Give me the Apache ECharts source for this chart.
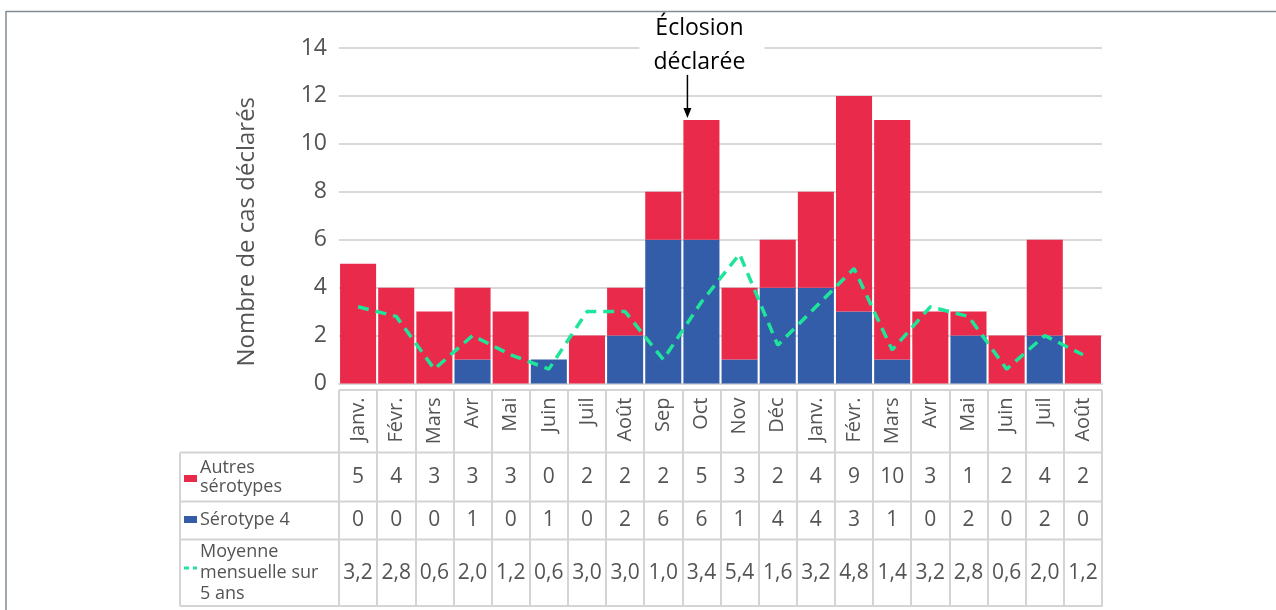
<!DOCTYPE html>
<html>
<head>
<meta charset="utf-8">
<script src="https://cdn.jsdelivr.net/npm/echarts@6/dist/echarts.min.js"></script>
<style>
  html, body { margin: 0; padding: 0; background: #fff; }
  #chart { width: 1276px; height: 610px; }
</style>
</head>
<body>
<div id="chart"></div>
<script>
// mois (deux années consécutives)
const months = ['Janv.', 'Févr.', 'Mars', 'Avr', 'Mai', 'Juin', 'Juil', 'Août', 'Sep', 'Oct',
  'Nov', 'Déc', 'Janv.', 'Févr.', 'Mars', 'Avr', 'Mai', 'Juin', 'Juil', 'Août']
const autres = [5, 4, 3, 3, 3, 0, 2, 2, 2, 5, 3, 2, 4, 9, 10, 3, 1, 2, 4, 2]
const serotype4 = [0, 0, 0, 1, 0, 1, 0, 2, 6, 6, 1, 4, 4, 3, 1, 0, 2, 0, 2, 0]
const moyenne = [3.2, 2.8, 0.6, 2.0, 1.2, 0.6, 3.0, 3.0, 1.0, 3.4, 5.4, 1.6, 3.2, 4.8, 1.4, 3.2, 2.8, 0.6, 2.0, 1.2]
const yTicks = { min: 0, max: 14, interval: 2 }
const outbreakIndex = 9 // Oct

const RED = '#EA2A4A'
const BLUE = '#335CA9'
const GREEN = '#1FE59B'
const TEXT = '#545454'
const LINE = '#D4D4D4'
const FONT = "'Open Sans', 'Noto Sans', sans-serif"

const GRID = { left: 339, right: 174, top: 48, bottom: 226.5 }
const X0 = GRID.left
const X1 = 1276 - GRID.right
const AXIS_Y = 610 - GRID.bottom

function fmtDec(v) {
  return v.toFixed(1).replace('.', ',')
}

// une rangée du tableau = un axe catégoriel supplémentaire, libellés centrés dans la rangée
function rowAxis(values, centerY) {
  return {
    type: 'category',
    gridIndex: 0,
    position: 'bottom',
    offset: centerY - AXIS_Y,
    data: values,
    axisLine: { show: false },
    axisTick: { show: false },
    splitLine: { show: false },
    axisLabel: {
      interval: 0,
      margin: 0,
      verticalAlign: 'middle',
      fontFamily: FONT,
      fontSize: 21,
      color: TEXT
    }
  }
}

function hLine(x1, x2, y) {
  return {
    type: 'line',
    silent: true,
    shape: { x1, y1: y, x2, y2: y },
    style: { stroke: LINE, lineWidth: 2 }
  }
}

function label(x, y, text, lh) {
  return {
    type: 'text',
    silent: true,
    x,
    y,
    style: {
      text,
      fill: TEXT,
      fontFamily: FONT,
      fontSize: 18,
      lineHeight: lh,
      align: 'left',
      verticalAlign: 'middle'
    }
  }
}

const chart = echarts.init(document.getElementById('chart'), null, { renderer: 'canvas' })

const option = {
  animation: false,
  grid: Object.assign({ containLabel: false, outerBoundsMode: 'none' }, GRID),
  xAxis: [
    {
      type: 'category',
      data: months,
      axisLine: { lineStyle: { color: '#D9D9D9', width: 2 } },
      axisTick: { show: false },
      axisLabel: {
        interval: 0,
        rotate: 90,
        margin: 14,
        fontFamily: FONT,
        fontSize: 20,
        color: TEXT
      }
    },
    rowAxis(autres.map(String), 477),
    rowAxis(serotype4.map(String), 520),
    rowAxis(moyenne.map(fmtDec), 573),
    // cadre du tableau : ligne du bas + séparateurs de colonnes
    {
      type: 'category',
      gridIndex: 0,
      position: 'bottom',
      offset: 606 - AXIS_Y,
      data: months,
      axisLine: { lineStyle: { color: LINE, width: 2 } },
      axisTick: { show: true, inside: true, length: 216, interval: 0, lineStyle: { color: LINE, width: 2 } },
      axisLabel: { show: false },
      splitLine: { show: false }
    }
  ],
  yAxis: {
    type: 'value',
    min: yTicks.min,
    max: yTicks.max,
    interval: yTicks.interval,
    name: 'Nombre de cas déclarés',
    nameLocation: 'middle',
    nameGap: 80,
    nameTextStyle: { fontFamily: FONT, fontSize: 24, color: TEXT, padding: [0, 32, 0, 0] },
    axisLine: { show: false },
    axisTick: { show: false },
    axisLabel: { margin: 12, fontFamily: FONT, fontSize: 23, color: TEXT },
    splitLine: { lineStyle: { color: '#D9D9D9', width: 2 } }
  },
  series: [
    {
      name: 'Sérotype 4',
      type: 'bar',
      stack: 'cas',
      barCategoryGap: '5.5%',
      itemStyle: { color: BLUE },
      data: serotype4
    },
    {
      name: 'Autres sérotypes',
      type: 'bar',
      stack: 'cas',
      barCategoryGap: '5.5%',
      itemStyle: { color: RED },
      data: autres
    },
    {
      name: 'Moyenne mensuelle sur 5 ans',
      type: 'line',
      symbol: 'none',
      lineStyle: { color: GREEN, width: 3.5, type: [11, 7] },
      data: moyenne
    }
  ]
}

chart.setOption(option)

// annotation + tableau, placés après le premier rendu
const [ox, oy] = chart.convertToPixel({ seriesIndex: 1 }, [outbreakIndex, autres[outbreakIndex] + serotype4[outbreakIndex]])
const arrowX = ox - 14
const tipY = oy - 2

chart.setOption({
  graphic: [
    // cadre extérieur (haut / gauche)
    { type: 'line', silent: true, shape: { x1: 6, y1: 11.5, x2: 1276, y2: 11.5 }, style: { stroke: '#7F8A94', lineWidth: 1.5 } },
    { type: 'line', silent: true, shape: { x1: 6, y1: 11, x2: 6, y2: 610 }, style: { stroke: '#7F8A94', lineWidth: 1.5 } },

    // bordures horizontales du tableau
    hLine(X0, X1, 390),
    hLine(180, X1, 452.5),
    hLine(180, X1, 501.5),
    hLine(180, X1, 539.5),
    hLine(180, X0, 606),
    { type: 'line', silent: true, shape: { x1: 180, y1: 452.5, x2: 180, y2: 606 }, style: { stroke: LINE, lineWidth: 2 } },

    // légende dans la première colonne
    { type: 'rect', silent: true, shape: { x: 184, y: 475, width: 13, height: 7 }, style: { fill: RED } },
    { type: 'rect', silent: true, shape: { x: 184, y: 516, width: 13, height: 7 }, style: { fill: BLUE } },
    { type: 'line', silent: true, shape: { x1: 184, y1: 568, x2: 189, y2: 568 }, style: { stroke: GREEN, lineWidth: 3 } },
    { type: 'line', silent: true, shape: { x1: 193, y1: 568, x2: 197, y2: 568 }, style: { stroke: GREEN, lineWidth: 3 } },
    label(200, 477.5, 'Autres\nsérotypes', 19),
    label(200, 520, 'Sérotype 4', 19),
    label(200, 573, 'Moyenne\nmensuelle sur\n5 ans', 21),

    // annotation « Éclosion déclarée »
    { type: 'rect', silent: true, shape: { x: ox - 62, y: 14, width: 125, height: 60 }, style: { fill: '#fff' } },
    {
      type: 'text',
      silent: true,
      x: ox - 2,
      y: oy - 74,
      style: {
        text: 'Éclosion\ndéclarée',
        fill: '#000',
        fontFamily: FONT,
        fontSize: 23,
        lineHeight: 34,
        align: 'center',
        verticalAlign: 'middle'
      }
    },
    { type: 'line', silent: true, shape: { x1: arrowX, y1: oy - 45, x2: arrowX, y2: tipY - 8 }, style: { stroke: '#000', lineWidth: 1.5 } },
    { type: 'polygon', silent: true, shape: { points: [[arrowX - 4, tipY - 10], [arrowX + 4, tipY - 10], [arrowX, tipY]] }, style: { fill: '#000' } }
  ]
})
</script>
</body>
</html>
